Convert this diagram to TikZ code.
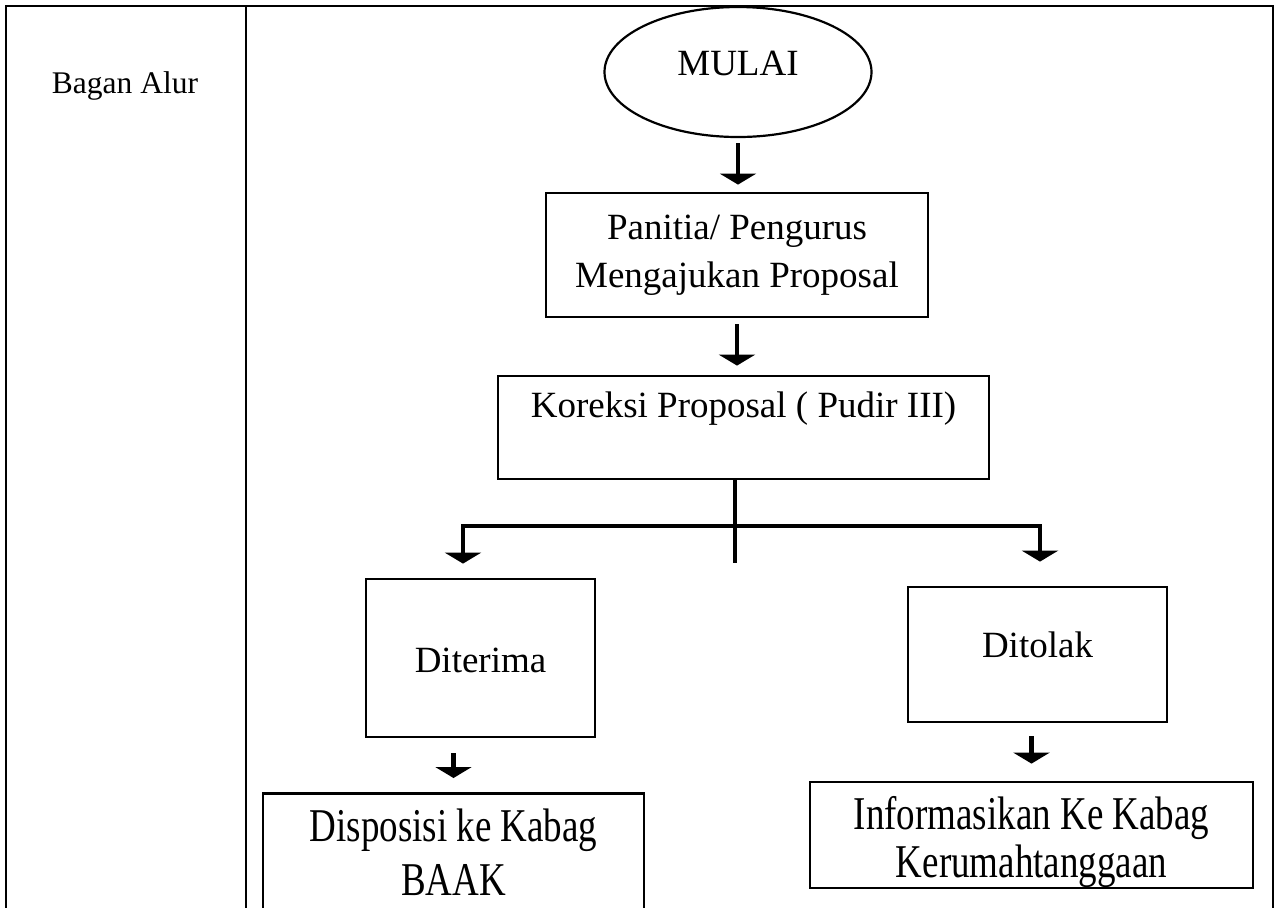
\documentclass[tikz,border=0pt]{standalone}
\usepackage{fontspec}
\setmainfont{Liberation Serif}
\usepackage{graphicx}
\usetikzlibrary{shapes.geometric,arrows.meta}
\newcommand{\tall}[1]{\scalebox{1}[1.27]{#1}}

\begin{document}
\begin{tikzpicture}[x=0.5pt,y=-0.5pt,
  >={Triangle[width=18pt,length=5.5pt]},
  box/.style={draw,line width=1.4pt,inner sep=0pt,align=center,
    font=\fontsize{18.5}{24}\selectfont},
  arr/.style={->,line width=2.2pt}]

  \useasboundingbox (0,0) rectangle (1280,907);
  \clip (0,0) rectangle (1280,907);

  % table
  \draw[line width=1.4pt] (6,920) -- (6,6) -- (1273,6) -- (1273,920);
  \draw[line width=1.4pt] (246,6) -- (246,920);
  \node[anchor=base,font=\fontsize{15.75}{19}\selectfont] (judul) at (125,93) {Bagan Alur};

  \node[box,ellipse,line width=1.1pt,minimum width=133.5pt,minimum height=65pt,
    text height=12.5pt,text depth=9pt] (mulai) at (738,72) {MULAI};
  \node[box,minimum width=191pt,minimum height=62pt] (pan) at (737,255)
    {Panitia/ Pengurus\\Mengajukan Proposal};
  \node[box,minimum width=245.5pt,minimum height=51.5pt,
    text height=12.5pt,text depth=23pt] (kor) at (743.5,427.5) {Koreksi Proposal ( Pudir III)};
  \node[box,minimum width=114.5pt,minimum height=79pt,
    text height=14pt,text depth=0pt] (dit) at (480.5,658) {Diterima};
  \node[box,minimum width=129.5pt,minimum height=67.5pt,
    text height=12.5pt,text depth=10pt] (tol) at (1037.5,654.5) {Ditolak};
  \node[box,anchor=north,minimum width=190.5pt,minimum height=75pt,
    text height=32pt,text depth=5pt,font=\fontsize{18.5}{27}\selectfont] (dis) at (453.5,792)
    {\tall{Disposisi ke Kabag}\\\tall{BAAK}};
  \node[box,minimum width=221.5pt,minimum height=53pt,
    text height=47pt,text depth=5pt] (inf) at (1031.5,835)
    {\tall{Informasikan Ke Kabag}\\\tall{Kerumahtanggaan}};

  \coordinate (cabang) at (735,526);
  \coordinate (kiri) at (463,526);
  \coordinate (kanan) at (1040,526);

  \draw[arr,shorten <=2.5pt,shorten >=3.5pt] (mulai.south) -- (mulai.south |- pan.north);
  \draw[arr,shorten <=3pt,shorten >=4.5pt] (pan.south) -- (pan.south |- kor.north);
  \draw[line width=2.2pt] (cabang |- kor.south) -- ++(0,83);
  \draw[arr,<->,shorten <=7pt,shorten >=12pt] (kiri |- dit.north) -- (kiri) -- (kanan) -- (kanan |- tol.north);
  \draw[arr,shorten <=7.5pt,shorten >=7pt] (dis.north |- dit.south) -- (dis.north);
  \draw[arr,shorten <=6.5pt,shorten >=8.5pt] (inf.north |- tol.south) -- (inf.north);

\end{tikzpicture}
\end{document}
